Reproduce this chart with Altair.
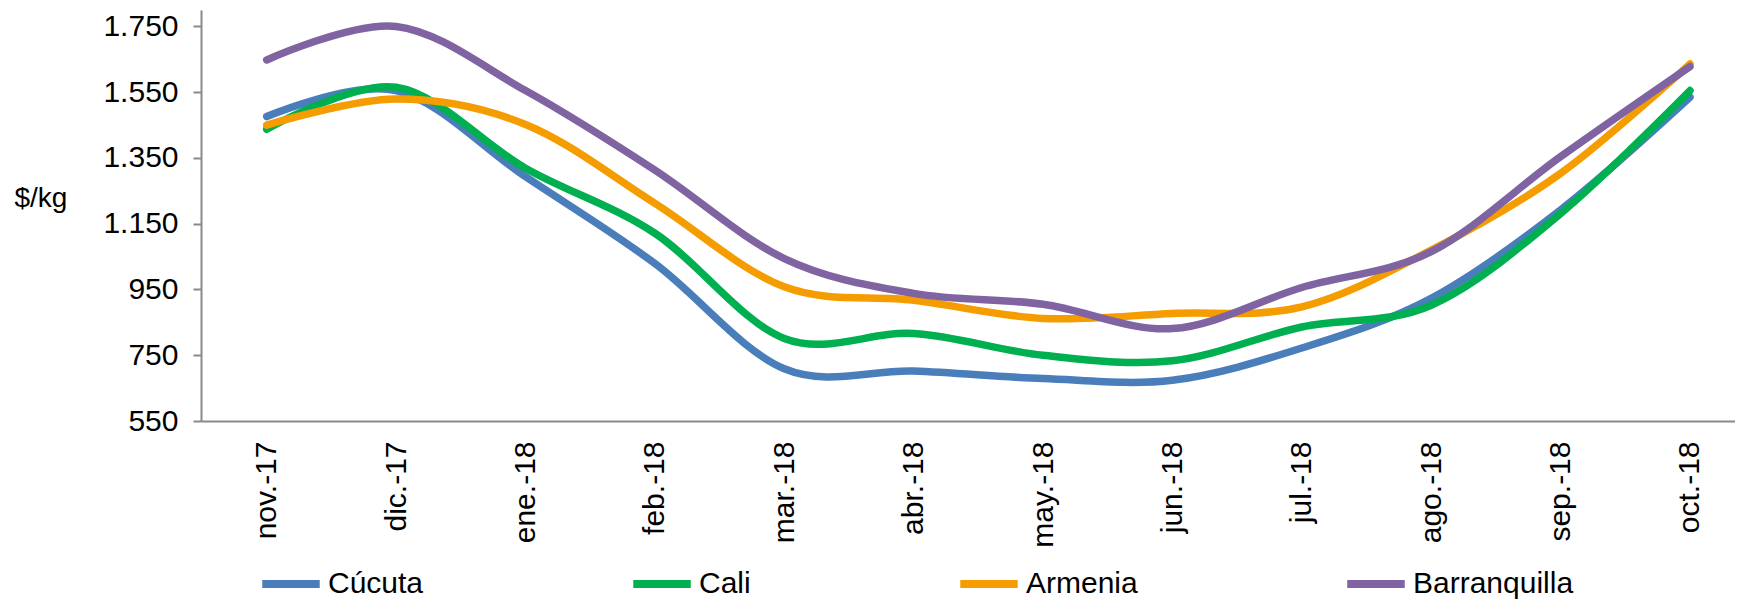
import altair as alt
import pandas as pd

months = ["nov.-17", "dic.-17", "ene.-18", "feb.-18", "mar.-18", "abr.-18",
          "may.-18", "jun.-18", "jul.-18", "ago.-18", "sep.-18", "oct.-18"]
cucuta = [1476, 1555, 1293, 1029, 709, 702, 679, 674, 772, 923, 1192, 1535]
cali = [1437, 1565, 1319, 1121, 801, 816, 750, 733, 836, 902, 1181, 1555]
armenia = [1450, 1529, 1452, 1212, 958, 917, 862, 877, 897, 1070, 1303, 1636]
barranquilla = [1648, 1750, 1555, 1313, 1044, 938, 905, 831, 956, 1065, 1354, 1628]

series = ["Cúcuta", "Cali", "Armenia", "Barranquilla"]
colors = ["#4A7EBB", "#00B050", "#F59D00", "#8064A2"]
y_ticks = [550, 750, 950, 1150, 1350, 1550, 1750]

rows = []
for name, vals in zip(series, [cucuta, cali, armenia, barranquilla]):
    for i, (m, v) in enumerate(zip(months, vals)):
        rows.append({"idx": i, "mes": m, "ciudad": name, "precio": v,
                     "orden": series.index(name)})
df = pd.DataFrame(rows)

x_label_expr = "[" + ",".join("'" + m + "'" for m in months) + "][datum.value]"
y_label_expr = "replace(format(datum.value, ','), ',', '.')"

FONT = "Liberation Sans"
AXIS_GRAY = "#898989"

chart = alt.Chart(df).mark_line(
    interpolate="cardinal", strokeWidth=7.5, strokeCap="round"
).encode(
    x=alt.X(
        "idx:Q",
        scale=alt.Scale(domain=[-0.508, 11.348], nice=False, zero=False),
        axis=alt.Axis(
            values=list(range(len(months))), labelExpr=x_label_expr,
            labelAngle=270, ticks=False, tickSize=0, labelPadding=20,
            grid=False, title=None, domainColor=AXIS_GRAY, domainWidth=2,
            labelFontSize=30, labelColor="black", labelFont=FONT,
            labelAlign="right", labelBaseline="middle",
        ),
    ),
    y=alt.Y(
        "precio:Q",
        scale=alt.Scale(domain=[550, 1800], nice=False, zero=False),
        axis=alt.Axis(
            values=y_ticks, labelExpr=y_label_expr, tickSize=8,
            tickColor=AXIS_GRAY, tickWidth=2, labelPadding=15, grid=False,
            domainColor=AXIS_GRAY, domainWidth=2,
            labelFontSize=30, labelColor="black", labelFont=FONT,
            title="$/kg", titleAngle=0, titleX=-187, titleY=188,
            titleAlign="left", titleBaseline="middle", titleFontSize=28,
            titleFontWeight="normal", titleFont=FONT, titleColor="black",
        ),
    ),
    color=alt.Color(
        "ciudad:N",
        scale=alt.Scale(domain=series, range=colors),
        sort=series,
        legend=alt.Legend(
            orient="none", legendX=57, legendY=541, direction="horizontal",
            columns=4, symbolType="stroke", symbolStrokeWidth=8,
            symbolSize=3300, labelFontSize=30, labelFont=FONT,
            labelColor="black", labelOffset=4, columnPadding=193,
            labelLimit=0, title=None, padding=0,
        ),
    ),
    order=alt.Order("orden:Q"),
).properties(
    width=1534,
    height=411,
    autosize=alt.AutoSizeParams(type="none"),
    padding={"left": 193, "top": 2, "right": 0, "bottom": 183},
).configure_view(strokeWidth=0)

chart.save("out.html", embed_options={"renderer": "svg", "actions": False})
